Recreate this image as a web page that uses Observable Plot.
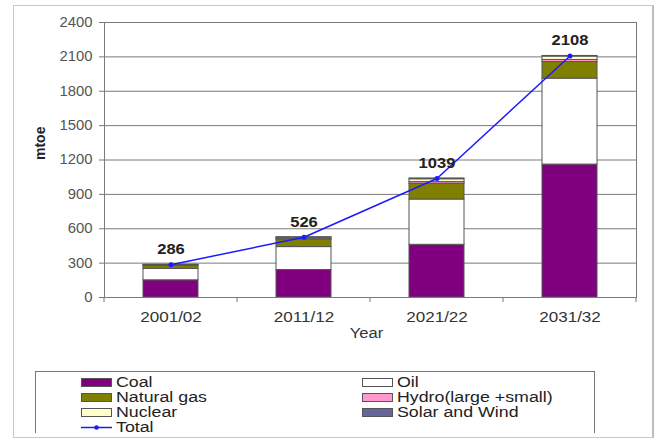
<!DOCTYPE html>
<html>
<head>
<meta charset="utf-8">
<script src="https://cdn.jsdelivr.net/npm/d3@7"></script>
<script src="https://cdn.jsdelivr.net/npm/@observablehq/plot@0.6"></script>
<style>
  html, body { margin: 0; padding: 0; background: #fff; }
  #wrap { position: relative; width: 659px; height: 441px; overflow: hidden; font-family: "Liberation Sans", Arial, sans-serif; }
  #frame { position: absolute; left: 13px; top: 5px; width: 641px; height: 433px; border: 1px solid #c8c8c8; border-right: 2px solid #bdbdbd; box-sizing: border-box; }
  #chart { position: absolute; left: 0; top: 0; }
  #legend { position: absolute; left: 35px; top: 371px; width: 560px; height: 62px; border: 1px solid #777; border-bottom: none; box-sizing: border-box; }
  .item { position: absolute; display: flex; align-items: center; font-size: 14px; line-height: 15px; color: #222; }
  .item .lab { display: inline-block; transform: scaleX(1.27); transform-origin: left center; white-space: nowrap; }
  .sw { width: 31px; height: 9px; border: 1px solid #555; box-sizing: border-box; margin-right: 4px; }
</style>
</head>
<body>
<div id="wrap">
  <div id="frame"></div>
  <div id="chart"></div>
  <div id="legend"></div>
</div>
<script>
// ---- data ----
const years = ["2001/02", "2011/12", "2021/22", "2031/32"];
const sources = ["Coal", "Oil", "Natural gas", "Hydro(large +small)", "Nuclear", "Solar and Wind"];
const coal    = [150, 240, 460, 1160];
const oil     = [100, 200, 395, 750];
const gas     = [25, 65, 137, 145];
const hydro   = [4, 8, 15, 18];
const nuclear = [5, 10, 25, 30];
const solar   = [2, 3, 7, 5];
const totals  = [286, 526, 1039, 2108];
const yTicks  = [0, 300, 600, 900, 1200, 1500, 1800, 2100, 2400];
const colors  = ["#800080", "#ffffff", "#808000", "#ff99cc", "#ffffcc", "#666699"];

const seriesVals = [coal, oil, gas, hydro, nuclear, solar];
const rows = [];
years.forEach((yr, i) => {
  sources.forEach((s, j) => rows.push({year: yr, source: s, value: seriesVals[j][i]}));
});
const totalRows = years.map((yr, i) => ({year: yr, total: totals[i]}));

const font = '"Liberation Sans", Arial, sans-serif';

const chart = Plot.plot({
  width: 659,
  height: 365,
  marginLeft: 104,
  marginRight: 23,
  marginTop: 22,
  marginBottom: 68,
  style: {fontFamily: font, fontSize: "14px", color: "#333", background: "transparent"},
  x: {domain: years, padding: 0, label: null},
  y: {domain: [0, 2400], label: null},
  color: {domain: sources, range: colors},
  marks: [
    Plot.ruleY(yTicks, {stroke: "#7a7a7a", strokeWidth: 1}),
    Plot.barY(rows, Plot.stackY({order: null}, {
      x: "year", y: "value", fill: "source", z: "source",
      stroke: "#555", strokeWidth: 1, insetLeft: 39, insetRight: 39
    })),
    Plot.line(totalRows, {x: "year", y: "total", stroke: "#1a1aff", strokeWidth: 1.5}),
    Plot.dot(totalRows, {x: "year", y: "total", r: 2.5, fill: "#1a1aff", stroke: "none"}),
    Plot.text(totalRows, {x: "year", y: "total", text: d => String(d.total), dy: -15, fontWeight: "bold", fontSize: 14, fill: "#222"}),
    Plot.axisY({ticks: yTicks, tickFormat: d => String(d), tickSize: 5, tickPadding: 7, stroke: "#777", fontSize: 14, fill: "#555", label: null}),
    Plot.axisX({tickSize: 0, tickPadding: 15, fontSize: 14, fill: "#333", label: null}),
    Plot.frame({stroke: "#7a7a7a"}),
    Plot.text(["Year"], {frameAnchor: "bottom", dy: 40, dx: -4, fontSize: 14, fill: "#333"}),
    Plot.text(["mtoe"], {frameAnchor: "left", dx: -64, rotate: -90, fontSize: 14, fontWeight: "bold", fill: "#222"})
  ]
});
document.getElementById("chart").appendChild(chart);

const svg = d3.select(chart);

// the reference's text is horizontally widened; stretch glyphs to match
function stretch(sel, k) {
  sel.each(function () {
    const L = this.getComputedTextLength();
    if (L > 0) {
      this.setAttribute("textLength", (L * k).toFixed(1));
      this.setAttribute("lengthAdjust", "spacingAndGlyphs");
    }
  });
}
stretch(svg.selectAll('g[aria-label="x-axis tick label"] text'), 1.22);
stretch(svg.selectAll('g[aria-label="y-axis tick label"] text'), 1.06);
stretch(svg.selectAll('g[aria-label="text"] text').filter(function () { return this.textContent !== "mtoe"; }), 1.18);

// category boundary tick marks on the x axis, from the band scale
const xs = chart.scale("x");
const y0 = chart.scale("y").apply(0);
const bounds = years.map(c => xs.apply(c)).concat([xs.apply(years[years.length - 1]) + xs.bandwidth]);
svg.append("g").selectAll("line").data(bounds).join("line")
  .attr("x1", d => d).attr("x2", d => d)
  .attr("y1", y0).attr("y2", y0 + 5)
  .attr("stroke", "#777");

// legend
const legendItems = [
  {label: "Coal", color: colors[0], col: 0, row: 0},
  {label: "Oil", color: colors[1], col: 1, row: 0},
  {label: "Natural gas", color: colors[2], col: 0, row: 1},
  {label: "Hydro(large +small)", color: colors[3], col: 1, row: 1},
  {label: "Nuclear", color: colors[4], col: 0, row: 2},
  {label: "Solar and Wind", color: colors[5], col: 1, row: 2}
];
const legend = document.getElementById("legend");
legendItems.forEach(it => {
  const d = document.createElement("div");
  d.className = "item";
  d.style.left = (it.col === 0 ? 45 : 326) + "px";
  d.style.top = (3 + it.row * 15) + "px";
  d.innerHTML = `<span class="sw" style="background:${it.color}"></span><span class="lab">${it.label}</span>`;
  legend.appendChild(d);
});
const tot = document.createElement("div");
tot.className = "item";
tot.style.left = "45px";
tot.style.top = "48px";
tot.innerHTML = `<svg width="31" height="9" style="margin-right:4px"><line x1="0" y1="4.5" x2="31" y2="4.5" stroke="#1a1aff" stroke-width="1.5"/><circle cx="15.5" cy="4.5" r="2.3" fill="#1a1aff"/></svg><span class="lab">Total</span>`;
legend.appendChild(tot);
</script>
</body>
</html>
